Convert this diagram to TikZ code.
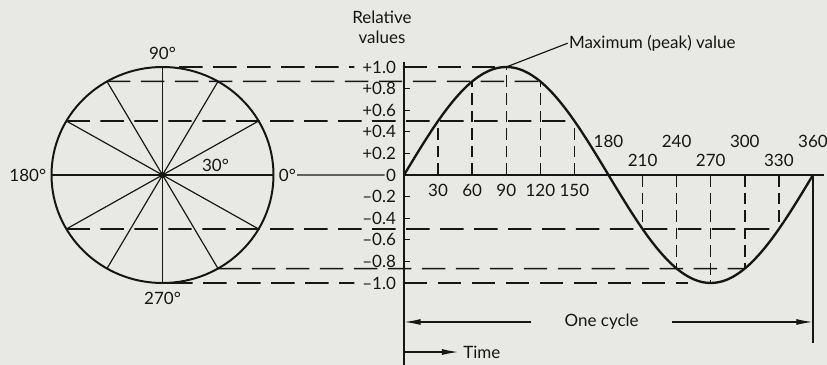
\documentclass[tikz,border=0pt]{standalone}
\usepackage{fontspec}
\setmainfont{Lato}
\usepackage{tikz}
\usetikzlibrary{arrows.meta,positioning,calc}
\definecolor{scanBg}{HTML}{E8E8E5}
\definecolor{scanInk}{HTML}{161616}
\tikzset{
  txt/.style={font=\fontsize{14.5}{17}\selectfont, text=scanInk, inner sep=1pt},
  rim/.style={draw=scanInk, line width=1.7pt},
  spoke/.style={draw=scanInk, line width=1pt},
  axisline/.style={draw=scanInk, line width=1.6pt},
  wave/.style={draw=scanInk, line width=2pt, line join=round},
  projh/.style={draw=scanInk, line width=1.3pt, dash pattern=on 20pt off 9pt},
  projv/.style={draw=scanInk, line width=1.2pt, dash pattern=on 10pt off 5pt},
  dimarrow/.style={draw=scanInk, line width=1.2pt, -{Latex[length=5mm, width=1.8mm]}},
}
\begin{document}
\begin{tikzpicture}[x=0.3mm, y=0.3mm]
\fill[scanBg] (0,0) rectangle (827,365);
\useasboundingbox (0,0) rectangle (827,365);

% phasor circle
\begin{scope}[shift={(162.5,190)}]
  \foreach \a in {0,30,...,330} \coordinate (c\a) at (\a:111 and 108);
  \draw[rim] (0,0) ellipse [x radius=111, y radius=108];
  \foreach \a/\b in {0/180,30/210,60/240,90/270,120/300,150/330} \draw[spoke] (c\a) -- (c\b);
  \fill[scanInk] (0,0) circle (3);
  \node[txt] (d30) at (53,10) {30°};
\end{scope}
\node[txt, above=1.8mm of c90] (d90) {90°};
\node[txt, below=2.2mm of c270] (d270) {270°};
\node[txt, left=1.2mm of c180] (d180) {180°};
\node[txt, right=1.2mm of c0] (d0) {0°};

% sine wave
\begin{scope}[shift={(121.2mm,57mm)}, x=0.3408mm, y=32.4mm]
  \foreach \a in {30,60,90,120,150,210,240,270,300,330} \coordinate (s\a) at (\a,{sin(\a)});
  \coordinate (lowEnd) at (250,-1);

  \draw[axisline] (0,1.05) -- (0,-1.76);
  \draw[axisline] (0,0) -- (370,0);
  \draw[axisline] (360,0) -- (360,-1.556);
  \foreach \v in {-1,-0.8,...,1.01} \draw[axisline, line width=1.1pt] (0,\v) -- ++(1.8mm,0);

  \foreach \v/\t/\n in {1/+1.0/p10, 0.8/+0.8/p08, 0.6/+0.6/p06, 0.4/+0.4/p04, 0.2/+0.2/p02, 0/0/v00,
      -0.2/--0.2/m02, -0.4/--0.4/m04, -0.6/--0.6/m06, -0.8/--0.8/m08, -1/--1.0/m10}
    \node[txt, left=2mm] (\n) at (0,\v) {\t};

  \draw[wave] plot[domain=0:360, samples=97, smooth] (\x,{sin(\x)});

  % projections
  \foreach \a in {30,60,90,120,150,210,240,270,300,330} \draw[projv] (\a,0) -- (s\a);
  \draw[projh] (c120) -- (s120);
  \draw[projh] (c150) -- (s150);
  \draw[projh] (c210) -- (s330);
  \draw[projh] (c300) -- (s300);
  \draw[projh, shorten <=5mm, shorten >=2mm] (c90) -- (p10.west);
  \draw[projh] (0,1) -- (s90);
  \draw[projh, shorten <=2mm, shorten >=2mm] (c270) -- (m10.west);
  \draw[projh] (0,-1) -- (lowEnd);
  \draw[spoke] (d0.east) -- (v00.west);

  % angle labels
  \foreach \a in {30,60,90,120,150} \node[txt] (t\a) at (\a,-0.14) {\a};
  \foreach \a in {180,240,300,360} \node[txt] (t\a) at (\a,0.315) {\a};
  \foreach \a in {210,270,330} \node[txt] (t\a) at (\a,0.139) {\a};

  \node[txt, anchor=west] (peak) at (144,1.22) {Maximum (peak) value};
  \draw[spoke] (s90) -- (peak.west);
  \node[txt, align=center] (relv) at (-19.4,1.37) {Relative\\values};

  % cycle and time
  \node[txt, inner xsep=10mm] (cyc) at (174,-1.361) {One cycle};
  \draw[dimarrow] (cyc.west) -- (0,-1.361);
  \draw[dimarrow] (cyc.east) -- (360,-1.361);
  \node[txt, anchor=west] (time) at (51,-1.639) {Time};
  \draw[dimarrow, shorten >=1mm] (0,-1.639) -- (time.west);
\end{scope}
\end{tikzpicture}
\end{document}
